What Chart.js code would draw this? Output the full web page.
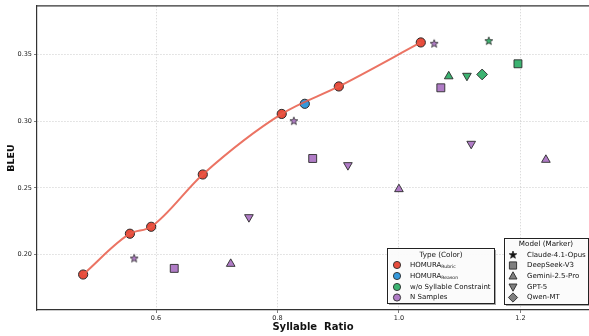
<!DOCTYPE html>
<html>
<head>
<meta charset="utf-8">
<script src="https://cdn.jsdelivr.net/npm/chart.js@4.4.0/dist/chart.umd.min.js"></script>
<style>
  html, body { margin: 0; padding: 0; background: #fff; overflow: hidden; }
  canvas { display: block; }
</style>
</head>
<body>
<canvas id="myChart" width="589" height="336"></canvas>
<script>
// data
const xTicks = [0.6, 0.8, 1.0, 1.2]
const yTicks = [0.20, 0.25, 0.30, 0.35]

const rubricX = [0.480, 0.557, 0.592, 0.677, 0.807, 0.901, 1.036]
const rubricY = [0.185, 0.2156, 0.2208, 0.260, 0.3054, 0.326, 0.359]

const reasonX = [0.845]
const reasonY = [0.313]

// w/o syllable constraint, one point per model
const noSylModels = ['star', 'square', 'up', 'down', 'diamond']
const noSylX = [1.148, 1.196, 1.082, 1.112, 1.137]
const noSylY = [0.360, 0.343, 0.3336, 0.334, 0.335]

// N samples
const nSampModels = ['star', 'star', 'star', 'square', 'square', 'square', 'up', 'up', 'up', 'down', 'down', 'down']
const nSampX = [1.058, 0.827, 0.564, 1.069, 0.858, 0.630, 1.000, 1.242, 0.723, 0.916, 1.119, 0.753]
const nSampY = [0.358, 0.300, 0.197, 0.325, 0.272, 0.1896, 0.249, 0.271, 0.193, 0.267, 0.283, 0.228]

const typeLabels = [['HOMURA', 'Rubric'], ['HOMURA', 'Reason'], ['w/o Syllable Constraint', ''], ['N Samples', '']]
const modelLabels = ['Claude-4.1-Opus', 'DeepSeek-V3', 'Gemini-2.5-Pro', 'GPT-5', 'Qwen-MT']
const modelKeys = ['star', 'square', 'up', 'down', 'diamond']

const RED = '#e74c3c'
const BLUE = '#3498db'
const GREEN = '#3cb371'
const PURPLE = '#b07cc6'
const EDGE = '#2a2a2a'
const FONT = "'DejaVu Sans', sans-serif"

function starImage(color, r) {
    const c = document.createElement('canvas')
    const s = Math.ceil(r * 2 + 3)
    c.width = s
    c.height = s
    const g = c.getContext('2d')
    drawStar(g, s / 2, s / 2, r, color)
    return c
}

function drawStar(g, cx, cy, r, color) {
    const ri = r * 0.42
    g.beginPath()
    for (let i = 0; i < 10; i++) {
        const rad = i % 2 === 0 ? r : ri
        const a = -Math.PI / 2 + i * Math.PI / 5
        const px = cx + rad * Math.cos(a)
        const py = cy + rad * Math.sin(a)
        if (i === 0) g.moveTo(px, py)
        else g.lineTo(px, py)
    }
    g.closePath()
    g.fillStyle = color
    g.fill()
    g.lineWidth = 0.8
    g.strokeStyle = EDGE
    g.stroke()
}

const greenStar = starImage(GREEN, 4.2)
const purpleStar = starImage(PURPLE, 4.2)

function styleFor(key, color) {
    if (key === 'star') return { pointStyle: color === GREEN ? greenStar : purpleStar, rotation: 0, radius: 5 }
    if (key === 'square') return { pointStyle: 'rect', rotation: 0, radius: 5.6 }
    if (key === 'up') return { pointStyle: 'triangle', rotation: 0, radius: 5 }
    if (key === 'down') return { pointStyle: 'triangle', rotation: 180, radius: 5 }
    return { pointStyle: 'rectRot', rotation: 0, radius: 5.4 }
}

function markerDataset(xs, ys, keys, color) {
    const st = keys.map(k => styleFor(k, color))
    return {
        type: 'scatter',
        data: xs.map((x, i) => ({ x: x, y: ys[i] })),
        backgroundColor: color,
        borderColor: EDGE,
        borderWidth: 0.9,
        pointStyle: st.map(s => s.pointStyle),
        rotation: st.map(s => s.rotation),
        pointRadius: st.map(s => s.radius),
        pointHoverRadius: st.map(s => s.radius)
    }
}

// small marker drawing for legend
function legendMarker(g, key, x, y, fill) {
    g.save()
    g.fillStyle = fill
    g.strokeStyle = EDGE
    g.lineWidth = 0.9
    g.beginPath()
    if (key === 'circle') {
        g.arc(x, y, 3.6, 0, Math.PI * 2)
    } else if (key === 'star') {
        g.restore()
        drawStar(g, x, y, 4, fill)
        return
    } else if (key === 'square') {
        g.rect(x - 3.6, y - 3.6, 7.2, 7.2)
    } else if (key === 'up') {
        g.moveTo(x, y - 4.2); g.lineTo(x + 4, y + 3); g.lineTo(x - 4, y + 3); g.closePath()
    } else if (key === 'down') {
        g.moveTo(x, y + 4.2); g.lineTo(x + 4, y - 3); g.lineTo(x - 4, y - 3); g.closePath()
    } else {
        g.moveTo(x, y - 4.6); g.lineTo(x + 4.6, y); g.lineTo(x, y + 4.6); g.lineTo(x - 4.6, y); g.closePath()
    }
    g.fill()
    g.stroke()
    g.restore()
}

function legendBox(g, x, y, w, h) {
    g.save()
    g.fillStyle = 'rgba(0,0,0,0.35)'
    g.fillRect(x + 1.5, y + 1.5, w, h)
    g.fillStyle = 'rgba(255,255,255,0.95)'
    g.fillRect(x, y, w, h)
    g.strokeStyle = '#222'
    g.lineWidth = 1
    g.strokeRect(x, y, w, h)
    g.restore()
}

const framePlugin = {
    id: 'frame',
    afterDraw(chart) {
        const g = chart.ctx
        const a = chart.chartArea
        g.save()
        g.strokeStyle = '#333'
        g.lineWidth = 1.2
        g.beginPath()
        g.moveTo(a.left, a.top)
        g.lineTo(a.right, a.top)
        g.stroke()

        // Type (Color) legend
        legendBox(g, 387.5, 248.5, 107, 55)
        g.fillStyle = '#111'
        g.textBaseline = 'middle'
        g.textAlign = 'center'
        g.font = '7.2px ' + FONT
        g.fillText('Type (Color)', 441, 255)
        const colors = [RED, BLUE, GREEN, PURPLE]
        const rowsA = [265, 276, 287, 297.5]
        typeLabels.forEach((lab, i) => {
            legendMarker(g, 'circle', 397, rowsA[i], colors[i])
            g.textAlign = 'left'
            g.fillStyle = '#111'
            g.font = '7px ' + FONT
            g.fillText(lab[0], 410, rowsA[i])
            if (lab[1]) {
                const w = g.measureText(lab[0]).width
                g.font = '4.6px ' + FONT
                g.fillText(lab[1], 410 + w, rowsA[i] + 2.2)
            }
        })

        // Model (Marker) legend
        legendBox(g, 504.5, 238.5, 84, 66)
        g.fillStyle = '#111'
        g.textAlign = 'center'
        g.font = '7.2px ' + FONT
        g.fillText('Model (Marker)', 546, 244)
        const rowsB = [255, 265.5, 276, 287, 297.5]
        modelLabels.forEach((lab, i) => {
            legendMarker(g, modelKeys[i], 513, rowsB[i], modelKeys[i] === 'star' ? '#111' : '#7f7f7f')
            g.textAlign = 'left'
            g.fillStyle = '#111'
            g.font = '7px ' + FONT
            g.fillText(lab, 527, rowsB[i])
        })
        g.restore()
    }
}

document.addEventListener("DOMContentLoaded", function () {
    const ctx = document.getElementById('myChart').getContext('2d')

    new Chart(ctx, {
        type: 'scatter',
        data: {
            datasets: [
                {
                    type: 'scatter',
                    data: rubricX.map((x, i) => ({ x: x, y: rubricY[i] })),
                    showLine: true,
                    cubicInterpolationMode: 'monotone',
                    borderColor: 'rgba(231, 90, 72, 0.85)',
                    borderWidth: 2,
                    pointRadius: 0,
                    pointHoverRadius: 0,
                    fill: false
                },
                {
                    type: 'scatter',
                    data: rubricX.map((x, i) => ({ x: x, y: rubricY[i] })),
                    backgroundColor: RED,
                    borderColor: EDGE,
                    borderWidth: 1,
                    pointRadius: 4.6,
                    pointHoverRadius: 4.6
                },
                {
                    type: 'scatter',
                    data: reasonX.map((x, i) => ({ x: x, y: reasonY[i] })),
                    backgroundColor: BLUE,
                    borderColor: EDGE,
                    borderWidth: 1,
                    pointRadius: 4.6,
                    pointHoverRadius: 4.6
                },
                markerDataset(noSylX, noSylY, noSylModels, GREEN),
                markerDataset(nSampX, nSampY, nSampModels, PURPLE)
            ]
        },
        options: {
            responsive: false,
            animation: false,
            layout: { autoPadding: false, padding: { top: 3, right: 0, left: 0, bottom: 0 } },
            plugins: {
                legend: { display: false },
                tooltip: { enabled: false }
            },
            scales: {
                x: {
                    type: 'linear',
                    min: 0.404,
                    max: 1.313,
                    afterFit: scale => { scale.height = 26 },
                    afterBuildTicks: scale => { scale.ticks = xTicks.map(v => ({ value: v })) },
                    ticks: {
                        callback: v => v.toFixed(1),
                        font: { family: FONT, size: 6.5 },
                        color: '#222',
                        padding: 1,
                        maxRotation: 0
                    },
                    grid: {
                        color: 'rgba(0,0,0,0.2)',
                        tickColor: '#444',
                        tickLength: 3,
                        lineWidth: 0.7
                    },
                    border: { display: true, color: '#333', width: 1.2, dash: [1.5, 1.5] },
                    title: {
                        display: true,
                        text: 'Syllable  Ratio',
                        font: { family: FONT, size: 10, weight: 'bold' },
                        color: '#111',
                        padding: { top: 0, bottom: 3 }
                    }
                },
                y: {
                    type: 'linear',
                    min: 0.1584,
                    max: 0.3864,
                    afterFit: scale => { scale.width = 37 },
                    afterBuildTicks: scale => { scale.ticks = yTicks.map(v => ({ value: v })) },
                    ticks: {
                        callback: v => v.toFixed(2),
                        font: { family: FONT, size: 6.5 },
                        color: '#222',
                        padding: 2
                    },
                    grid: {
                        color: 'rgba(0,0,0,0.2)',
                        tickColor: '#444',
                        tickLength: 3,
                        lineWidth: 0.7
                    },
                    border: { display: true, color: '#333', width: 1.2, dash: [1.5, 1.5] },
                    title: {
                        display: true,
                        text: 'BLEU',
                        font: { family: FONT, size: 9.5, weight: 'bold' },
                        color: '#111',
                        padding: { top: 6, bottom: 0 }
                    }
                }
            }
        },
        plugins: [framePlugin]
    })
})
</script>
</body>
</html>
